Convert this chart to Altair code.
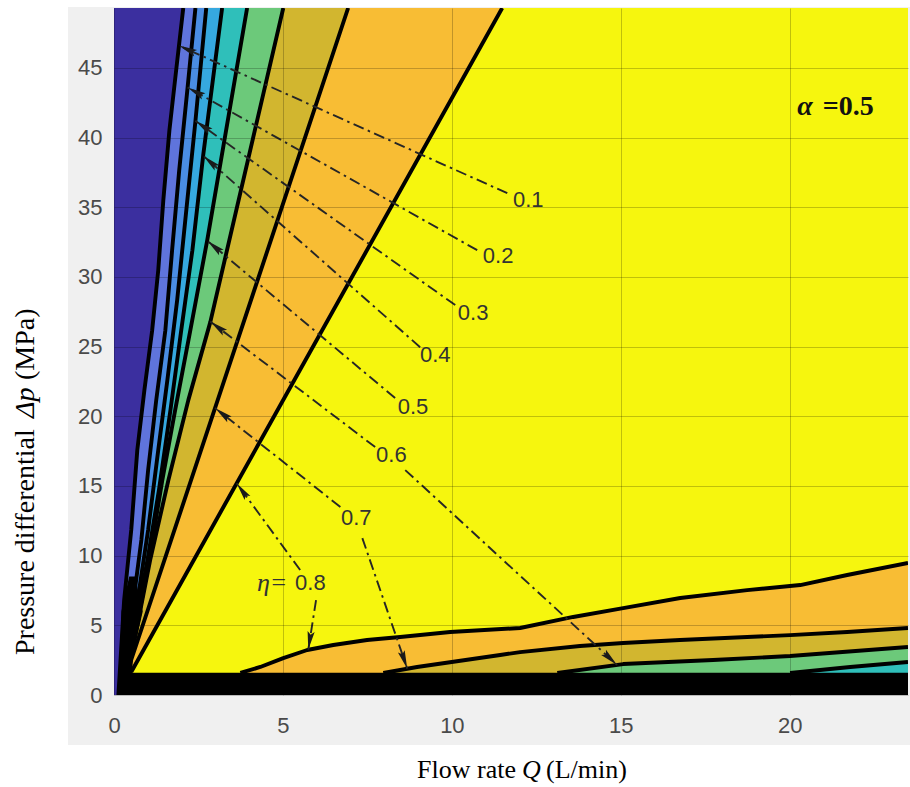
import math
import altair as alt
import pandas as pd

# ---------------- axis ranges ----------------
Q_MAX = 23.5      # flow rate, L/min
DP_MAX = 49.3     # pressure differential, MPa
PLOT_W, PLOT_H = 794, 687

levels = ["0.1", "0.2", "0.3", "0.4", "0.5", "0.6", "0.7", "0.8"]

# band colours, from the lowest efficiency band (<0.1) to the highest (>0.8)
band_colors = ["#3b2f9f", "#5f74dc", "#4a8de3", "#36a8df", "#2fbfba",
               "#6cc97a", "#d2b62f", "#f8bd34", "#f6f60e"]

# ---------------- steep branch of each iso-efficiency line (Q against Δp) ----------------
eta01_q = [0.13, 0.30, 0.51, 0.69, 0.90, 1.13, 1.31, 1.46, 1.64, 1.84, 2.05]
eta01_dp = [0.0, 6.81, 11.84, 17.58, 21.88, 26.18, 30.49, 35.51, 40.53, 44.84, 49.3]
eta02_q = [0.25, 0.54, 0.81, 1.01, 1.25, 1.52, 1.72, 1.93, 2.17, 2.41]
eta02_dp = [1.79, 6.10, 11.12, 16.14, 21.16, 26.18, 31.92, 37.66, 43.40, 49.3]
eta03_q = [0.33, 0.70, 1.01, 1.31, 1.58, 1.87, 2.14, 2.41, 2.73]
eta03_dp = [1.65, 6.81, 11.84, 17.58, 22.60, 28.34, 34.79, 41.18, 49.3]
eta04_q = [0.33, 0.66, 0.99, 1.33, 1.67, 1.99, 2.32, 2.64, 3.20]
eta04_dp = [1.65, 5.38, 9.68, 14.71, 20.44, 26.18, 31.92, 38.74, 49.3]
eta05_q = [0.36, 0.74, 1.09, 1.43, 1.81, 2.26, 2.76, 3.94]
eta05_dp = [1.65, 5.74, 10.40, 15.42, 20.44, 26.18, 32.64, 49.3]
eta06_q = [0.42, 1.07, 1.61, 2.20, 2.85, 5.01]
eta06_dp = [1.65, 9.68, 15.42, 21.16, 26.76, 49.3]
eta07_q = [0.39, 3.66, 6.93]
eta07_dp = [1.65, 25.47, 49.3]
eta08_q = [0.51, 6.00, 11.49]
eta08_dp = [1.65, 25.47, 49.3]

# ---------------- flat branch of the iso-efficiency lines (Δp against Q) ----------------
eta08b_q = [3.74, 4.33, 5.01, 5.72, 6.49, 7.49, 8.47, 9.95, 12.02, 13.59, 15.07, 16.76, 18.74, 20.31, 21.70, 23.5]
eta08b_dp = [1.58, 2.01, 2.65, 3.23, 3.59, 3.95, 4.16, 4.52, 4.81, 5.60, 6.24, 6.96, 7.53, 7.89, 8.61, 9.47]
eta07b_q = [7.97, 8.97, 11.43, 12.02, 13.79, 15.07, 16.75, 18.74, 20.01, 21.70, 23.5]
eta07b_dp = [1.58, 2.01, 2.87, 3.08, 3.52, 3.73, 3.95, 4.16, 4.30, 4.52, 4.81]
eta06b_q = [13.12, 15.07, 17.73, 20.01, 23.5]
eta06b_dp = [1.58, 2.22, 2.51, 2.80, 3.44]
eta05b_q = [20.01, 21.79, 23.5]
eta05b_dp = [1.58, 2.01, 2.37]

# dense low-pressure band where all contours crowd together
band_q = [0.15, Q_MAX]
band_dp = [0.0, 1.6]
knot_dp = [0.0, 3.0, 6.0, 8.5]
knot_q_left = [0.17, 0.19, 0.22, 0.45]
knot_q_right = [0.50, 0.57, 0.85, 0.62]

# ---------------- leader lines: label end -> arrow tip ----------------
leader_label = ["0.1", "0.2", "0.3", "0.4", "0.5", "0.6", "0.7", "0.8", "0.8", "0.7", "0.6"]
leader_q0 = [11.64, 10.75, 10.10, 9.06, 8.32, 7.73, 6.70, 5.51, 5.98, 7.35, 8.62]
leader_dp0 = [36.01, 31.92, 27.98, 24.96, 21.31, 17.79, 13.49, 8.97, 6.81, 11.26, 16.14]
leader_q1 = [1.92, 2.18, 2.41, 2.64, 2.76, 2.85, 2.99, 3.63, 5.75, 8.68, 14.89]
leader_dp1 = [46.6, 43.6, 41.2, 38.7, 32.6, 26.8, 20.6, 15.2, 3.25, 1.89, 2.16]

# label positions (centre of each value label)
label_text = ["0.1", "0.2", "0.3", "0.4", "0.5", "0.6", "0.7"]
label_q = [12.26, 11.37, 10.63, 9.51, 8.85, 8.21, 7.17]
label_dp = [35.51, 31.49, 27.40, 24.39, 20.66, 17.22, 12.70]

# ---------------- scales and axes ----------------
xscale = alt.Scale(domain=[0, Q_MAX], nice=False, zero=False)
yscale = alt.Scale(domain=[0, DP_MAX], nice=False, zero=False)
axis_style = dict(grid=True, ticks=False, domain=False, title=None,
                  labelFont="Liberation Sans", labelFontSize=22, labelColor="#4a4a4a",
                  labelFlush=False, gridColor="#000000", gridOpacity=0.22, gridWidth=1,
                  zindex=1)
xaxis = alt.Axis(values=[0, 5, 10, 15, 20], labelPadding=20, **axis_style)
yaxis = alt.Axis(values=list(range(0, 50, 5)), labelPadding=12, **axis_style)


def X(field):
    return alt.X(field, type="quantitative", scale=xscale, axis=xaxis)


def Y(field):
    return alt.Y(field, type="quantitative", scale=yscale, axis=yaxis)


steep = [(eta01_q, eta01_dp), (eta02_q, eta02_dp), (eta03_q, eta03_dp), (eta04_q, eta04_dp),
         (eta05_q, eta05_dp), (eta06_q, eta06_dp), (eta07_q, eta07_dp), (eta08_q, eta08_dp)]
flat = [(7, eta08b_q, eta08b_dp), (6, eta07b_q, eta07b_dp),
        (5, eta06b_q, eta06b_dp), (4, eta05b_q, eta05b_dp)]

layers = []

# light grey figure panel behind the axes
one = pd.DataFrame({"k": [0]})
layers.append(alt.Chart(one).mark_rect(color="#f0f0f0").encode(
    x=alt.value(-46), x2=alt.value(PLOT_W + 2), y=alt.value(-1), y2=alt.value(737)))

# highest band fills the whole plot
base = pd.DataFrame({"q0": [0.0], "q1": [Q_MAX], "d0": [0.0], "d1": [DP_MAX]})
layers.append(alt.Chart(base).mark_rect(color=band_colors[8]).encode(
    x=X("q0"), x2=alt.X2("q1"), y=Y("d0"), y2=alt.Y2("d1")))

# bands on the steep side: paint "left of each contour", highest level first
for k in range(7, -1, -1):
    q, dp = steep[k]
    df = pd.DataFrame({"q": q, "dp": dp, "q0": [0.0] * len(q)})
    layers.append(alt.Chart(df).mark_area(orient="horizontal", fill=band_colors[k],
                                          opacity=1, stroke=None).encode(
        y=Y("dp"), x=X("q"), x2=alt.X2("q0")))

# bands on the flat side: paint "below each contour"
for k, q, dp in flat:
    df = pd.DataFrame({"q": q, "dp": dp, "d0": [0.0] * len(q)})
    layers.append(alt.Chart(df).mark_area(orient="vertical", fill=band_colors[k],
                                          opacity=1).encode(
        x=X("q"), y=Y("dp"), y2=alt.Y2("d0")))

# contour lines
rows = []
for k, (q, dp) in enumerate(steep):
    for i, (a, b) in enumerate(zip(q, dp)):
        rows.append({"line": "s" + levels[k], "q": a, "dp": b, "seq": i})
for k, q, dp in flat:
    for i, (a, b) in enumerate(zip(q, dp)):
        rows.append({"line": "f" + levels[k], "q": a, "dp": b, "seq": i})
lines_df = pd.DataFrame(rows)
layers.append(alt.Chart(lines_df).mark_line(color="#000000", strokeWidth=3.9, clip=True,
                                            strokeJoin="round").encode(
    x=X("q"), y=Y("dp"), detail="line:N", order=alt.Order("seq:Q")))

# crowded low-pressure band
band_df = pd.DataFrame({"q0": [band_q[0]], "q1": [band_q[1]], "d0": [band_dp[0]], "d1": [band_dp[1]]})
layers.append(alt.Chart(band_df).mark_rect(color="#000000", clip=True).encode(
    x=X("q0"), x2=alt.X2("q1"), y=Y("d0"), y2=alt.Y2("d1")))
knot_df = pd.DataFrame({"dp": knot_dp, "ql": knot_q_left, "qr": knot_q_right})
layers.append(alt.Chart(knot_df).mark_area(orient="horizontal", fill="#000000", opacity=1).encode(
    y=Y("dp"), x=X("ql"), x2=alt.X2("qr")))

# dash-dot leaders
lrows = []
for i in range(len(leader_label)):
    lrows.append({"id": i, "q": leader_q0[i], "dp": leader_dp0[i], "seq": 0})
    lrows.append({"id": i, "q": leader_q1[i], "dp": leader_dp1[i], "seq": 1})
leader_df = pd.DataFrame(lrows)
layers.append(alt.Chart(leader_df).mark_line(color="#262626", strokeWidth=1.9,
                                             strokeDash=[11, 4.5, 2.5, 4.5]).encode(
    x=X("q"), y=Y("dp"), detail="id:N", order=alt.Order("seq:Q")))

# arrowheads at the tip of each leader
sx = PLOT_W / Q_MAX
sy = PLOT_H / DP_MAX
HEAD = 21.0   # arrowhead length in px
arows = []
for i in range(len(leader_label)):
    dxp = (leader_q1[i] - leader_q0[i]) * sx
    dyp = -(leader_dp1[i] - leader_dp0[i]) * sy
    n = math.hypot(dxp, dyp)
    ux, uy = dxp / n, dyp / n
    ang = math.degrees(math.atan2(ux, -uy)) % 360
    arows.append({"q": leader_q1[i] - ux * HEAD / 2 / sx,
                  "dp": leader_dp1[i] + uy * HEAD / 2 / sy,
                  "ang": ang})
head_df = pd.DataFrame(arows)
layers.append(alt.Chart(head_df).mark_point(shape="M0,-1L0.34,0.75L0,0.45L-0.34,0.75Z", filled=True,
                                            opacity=1, color="#1a1a1a", size=HEAD * HEAD).encode(
    x=X("q"), y=Y("dp"), angle=alt.Angle("ang:Q", scale=None)))

# value labels
lab_df = pd.DataFrame({"t": label_text, "q": label_q, "dp": label_dp})
layers.append(alt.Chart(lab_df).mark_text(font="Liberation Sans", fontSize=22, color="#333333",
                                          align="center", baseline="middle").encode(
    x=X("q"), y=Y("dp"), text="t:N"))
eta_df = pd.DataFrame({"q": [5.13], "dp": [8.03]})
layers.append(alt.Chart(eta_df).mark_text(text="\u03b7=", font="Liberation Serif", fontStyle="italic",
                                          fontSize=26, color="#333333", align="right",
                                          baseline="middle").encode(x=X("q"), y=Y("dp")))
eta_val_df = pd.DataFrame({"q": [5.36], "dp": [8.03]})
layers.append(alt.Chart(eta_val_df).mark_text(text="0.8", font="Liberation Sans", fontSize=22,
                                              color="#333333", align="left",
                                              baseline="middle").encode(x=X("q"), y=Y("dp")))

# α annotation
alpha_df = pd.DataFrame({"q": [20.22], "dp": [41.6]})
layers.append(alt.Chart(alpha_df).mark_text(text="\u03b1", font="Liberation Serif", fontStyle="italic",
                                            fontWeight="bold", fontSize=28, color="#111111",
                                            align="left", baseline="alphabetic").encode(
    x=X("q"), y=Y("dp")))
alpha_val_df = pd.DataFrame({"q": [20.98], "dp": [41.6]})
layers.append(alt.Chart(alpha_val_df).mark_text(text="=0.5", font="Liberation Serif",
                                                fontWeight="bold", fontSize=28, color="#111111",
                                                align="left", baseline="alphabetic").encode(
    x=X("q"), y=Y("dp")))

# axis titles, with italic symbols
def title_part(text, x, y, italic=False, size=26, align="left", angle=0, baseline="alphabetic"):
    kw = dict(text=text, font="Liberation Serif", fontSize=size, color="#000000",
              align=align, baseline=baseline)
    if italic:
        kw["fontStyle"] = "italic"
    if angle:
        kw["angle"] = angle
    return alt.Chart(one).mark_text(**kw).encode(x=alt.value(x), y=alt.value(y))


layers.append(title_part("Flow rate", 402, 770, align="right"))
layers.append(title_part("Q", 408, 770, italic=True))
layers.append(title_part("(L/min)", 432, 770))
layers.append(title_part("Pressure differential", -88, 647, size=28, angle=270, baseline="middle"))
layers.append(title_part("\u0394p", -88, 410, size=28, italic=True, angle=270, baseline="middle"))
layers.append(title_part("(MPa)", -88, 372, size=28, angle=270, baseline="middle"))

chart = alt.layer(*layers).properties(
    width=PLOT_W, height=PLOT_H,
    padding={"left": 114, "top": 8, "right": 2, "bottom": 92},
    autosize=alt.AutoSizeParams(type="none"),
    background="#ffffff",
).configure_view(stroke="#3a3a3a", strokeWidth=1)

chart.save("out.html", embed_options={"renderer": "svg", "actions": False})
